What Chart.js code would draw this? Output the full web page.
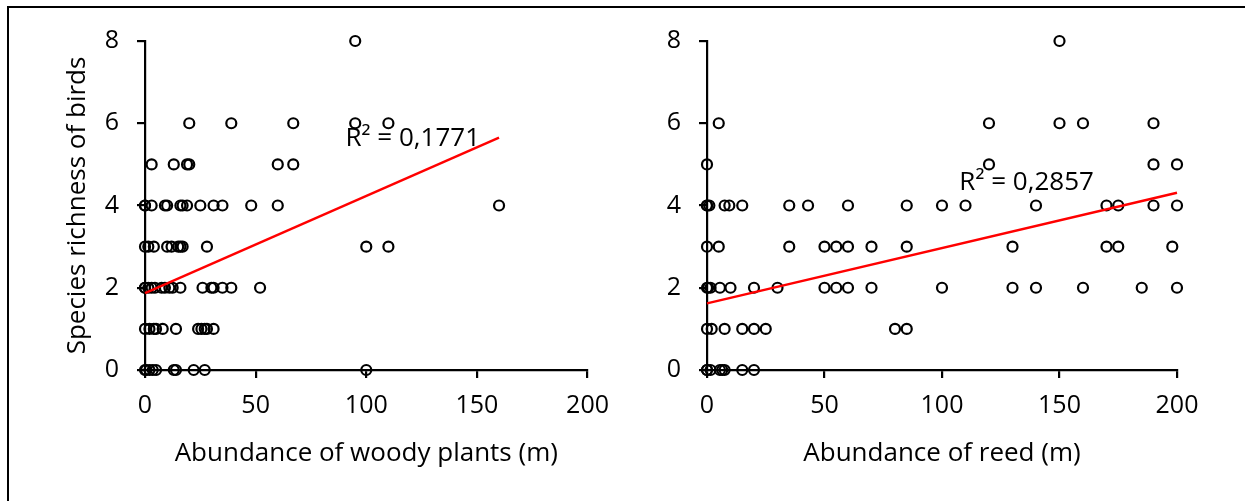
<!DOCTYPE html>
<html>
<head>
<meta charset="utf-8">
<script src="https://cdn.jsdelivr.net/npm/chart.js@4/dist/chart.umd.min.js"></script>
<style>
  body { margin: 0; background: #fff; }
  #frame { position: absolute; left: 7px; top: 6px; width: 1245px; height: 501px;
           border-top: 2px solid #000; border-left: 2px solid #000; }
  canvas { position: absolute; top: 0; }
  #woodyChart { left: 0; }
  #reedChart { left: 622px; }
</style>
</head>
<body>
<div id="frame"></div>
<canvas id="woodyChart" width="622" height="501"></canvas>
<canvas id="reedChart" width="623" height="501"></canvas>
<script>
// woody plants (m) vs species richness
const woodyX = [
  95,
  20, 39, 67, 95, 110,
  3, 13, 19, 20, 60, 67,
  0, 0, 3, 9, 10, 16, 17, 19, 25, 31, 35, 48, 60, 160,
  0, 1.5, 4, 10, 12, 15, 16, 17, 28, 100, 110,
  0, 0, 1.5, 3, 4.5, 7.5, 9, 11, 12.5, 16, 26, 30, 31, 35, 39, 52,
  0, 2, 4, 5, 8, 14, 24, 25.5, 27, 28, 31,
  0, 0.5, 2, 3.5, 5, 13, 14, 22, 27, 100
];
const woodyY = [
  8,
  6, 6, 6, 6, 6,
  5, 5, 5, 5, 5, 5,
  4, 4, 4, 4, 4, 4, 4, 4, 4, 4, 4, 4, 4, 4,
  3, 3, 3, 3, 3, 3, 3, 3, 3, 3, 3,
  2, 2, 2, 2, 2, 2, 2, 2, 2, 2, 2, 2, 2, 2, 2, 2,
  1, 1, 1, 1, 1, 1, 1, 1, 1, 1, 1,
  0, 0, 0, 0, 0, 0, 0, 0, 0, 0
];

// reed (m) vs species richness
const reedX = [
  150,
  5, 120, 150, 160, 190,
  0, 120, 190, 200,
  0, 0, 1, 7.5, 9.5, 15, 35, 43, 60, 85, 100, 110, 140, 170, 175, 190, 200,
  0, 5, 35, 50, 55, 60, 70, 85, 130, 170, 175, 198,
  0, 0.5, 1.5, 5.5, 10, 20, 30, 50, 55, 60, 70, 100, 130, 140, 160, 185, 200,
  0, 2, 7.5, 15, 20, 25, 80, 85,
  0, 0, 1.5, 5.5, 6.5, 7.5, 15, 20
];
const reedY = [
  8,
  6, 6, 6, 6, 6,
  5, 5, 5, 5,
  4, 4, 4, 4, 4, 4, 4, 4, 4, 4, 4, 4, 4, 4, 4, 4, 4,
  3, 3, 3, 3, 3, 3, 3, 3, 3, 3, 3, 3,
  2, 2, 2, 2, 2, 2, 2, 2, 2, 2, 2, 2, 2, 2, 2, 2, 2,
  1, 1, 1, 1, 1, 1, 1, 1,
  0, 0, 0, 0, 0, 0, 0, 0
];

// linear trend lines (end points)
const woodyTrendX = [0, 160];
const woodyTrendY = [1.87, 5.65];
const reedTrendX = [0, 200];
const reedTrendY = [1.62, 4.31];

const yTicks = [0, 2, 4, 6, 8];
const xTicks = [0, 50, 100, 150, 200];

const FONT = "'Open Sans', 'DejaVu Sans', sans-serif";

function toPoints(xs, ys){
  return xs.map((x, i) => ({x: x, y: ys[i]}));
}

// writes the R² label at a data position
const r2Label = {
  id: 'r2Label',
  afterDatasetsDraw(chart, args, opts){
    const ctx = chart.ctx;
    const x = chart.scales.x.getPixelForValue(opts.x);
    const y = chart.scales.y.getPixelForValue(opts.y);
    ctx.save();
    ctx.font = '26px ' + FONT;
    ctx.fillStyle = '#000';
    ctx.textAlign = 'center';
    ctx.textBaseline = 'middle';
    ctx.fillText(opts.text, x, y);
    ctx.restore();
  }
};

function buildConfig(points, trendX, trendY, label, xTitle, yTitle, yWidth, padRight){
  return {
    type: 'scatter',
    data: {
      datasets: [{
        data: points,
        pointStyle: 'circle',
        pointRadius: 5,
        pointBorderWidth: 2.2,
        borderColor: '#000',
        backgroundColor: 'rgba(0,0,0,0)',
        clip: false,
        order: 2
      }, {
        type: 'line',
        data: toPoints(trendX, trendY),
        borderColor: '#ff0000',
        borderWidth: 2.4,
        pointRadius: 0,
        fill: false,
        clip: false,
        order: 1
      }]
    },
    options: {
      responsive: false,
      animation: false,
      events: [],
      layout: { padding: { top: 41, right: padRight, bottom: 0, left: 0 } },
      plugins: {
        legend: { display: false },
        tooltip: { enabled: false },
        r2Label: label
      },
      scales: {
        x: {
          type: 'linear',
          min: 0, max: 200,
          afterBuildTicks: s => { s.ticks = xTicks.map(v => ({value: v})); },
          afterFit: s => { s.height = 131; },
          grid: { drawOnChartArea: false, drawTicks: true, tickLength: 8, color: '#000', lineWidth: 2.2 },
          border: { display: true, color: '#000', width: 2.2 },
          ticks: { color: '#000', padding: 13, font: { family: FONT, size: 25 } },
          title: { display: true, text: xTitle, color: '#000',
                   padding: { bottom: 32 }, font: { family: FONT, size: 26 } }
        },
        y: {
          type: 'linear',
          min: 0, max: 8,
          afterBuildTicks: s => { s.ticks = yTicks.map(v => ({value: v})); },
          afterFit: s => { s.width = yWidth; },
          grid: { drawOnChartArea: false, drawTicks: true, tickLength: 8, color: '#000', lineWidth: 2.2 },
          border: { display: true, color: '#000', width: 2.2 },
          ticks: { color: '#000', padding: 18, font: { family: FONT, size: 25 } },
          title: { display: !!yTitle, text: yTitle, color: '#000',
                   padding: { top: 62 }, font: { family: FONT, size: 26 } }
        }
      }
    },
    plugins: [r2Label]
  };
}

new Chart(document.getElementById('woodyChart'),
  buildConfig(toPoints(woodyX, woodyY), woodyTrendX, woodyTrendY,
    { text: 'R² = 0,1771', x: 121, y: 5.62 },
    'Abundance of woody plants (m)', 'Species richness of birds', 145, 27));

new Chart(document.getElementById('reedChart'),
  buildConfig(toPoints(reedX, reedY), reedTrendX, reedTrendY,
    { text: 'R² = 0,2857', x: 136, y: 4.55 },
    'Abundance of reed (m)', '', 85, 68));
</script>
</body>
</html>
